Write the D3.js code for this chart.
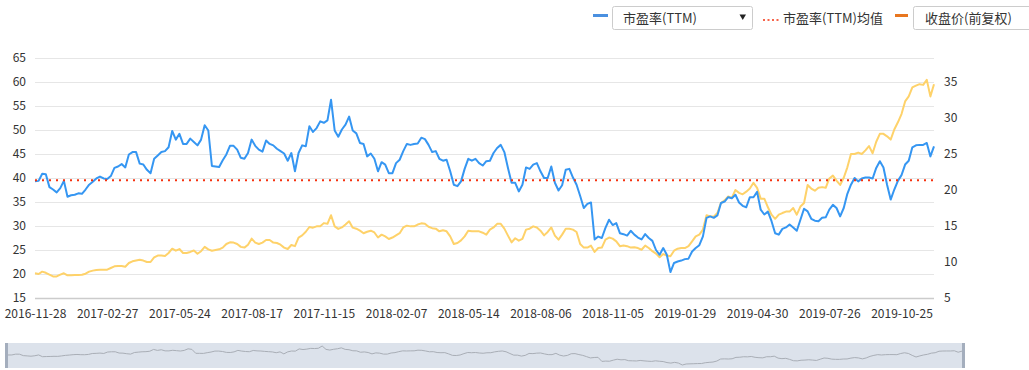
<!DOCTYPE html>
<html><head><meta charset="utf-8">
<script src="https://cdn.jsdelivr.net/npm/d3@7"></script>
<style>
body{margin:0;background:#fff;font-family:"Noto Sans CJK SC","Microsoft YaHei",sans-serif;}
svg text{font-family:"Noto Sans CJK SC","Microsoft YaHei",sans-serif;}
</style></head><body>
<svg id="c" width="1029" height="370"></svg>
<script>
// x-axis tick labels (one every 20 samples)
const tickLabels = ["2016-11-28","2017-02-27","2017-05-24","2017-08-17","2017-11-15","2018-02-07","2018-05-14","2018-08-06","2018-11-05","2019-01-29","2019-04-30","2019-07-26","2019-10-25"];
const samplesPerTick = 20;
const leftTicks = [15,20,25,30,35,40,45,50,55,60,65];
const rightTicks = [5,10,15,20,25,30,35];
const peMean = 39.55;
// 市盈率(TTM)
const pe = [
39.3,39.4,40.9,40.8,38.1,37.6,37.0,37.9,39.4,36.1,
36.4,36.5,36.8,36.7,37.6,38.6,39.2,39.9,40.3,39.9,
39.8,40.4,42.1,42.4,42.9,42.2,44.9,45.4,45.4,43.0,
42.8,41.7,41.0,44.0,44.7,45.4,45.6,46.4,49.8,48.0,
49.2,47.1,47.1,48.2,47.5,46.8,48.0,51.0,49.9,42.5,
42.4,42.3,43.7,44.9,46.7,46.7,45.9,44.2,44.0,45.2,
48.0,46.7,45.9,45.5,47.8,47.1,46.8,46.1,45.6,45.1,
43.6,45.2,41.4,45.2,46.8,46.6,50.8,49.6,50.4,51.8,
51.5,52.0,56.3,49.9,48.6,50.1,51.1,52.8,49.9,49.3,
47.3,47.1,44.5,45.1,44.0,41.4,43.3,42.8,41.0,41.0,
43.1,43.8,45.6,47.1,46.9,47.1,47.2,48.4,48.1,46.9,
45.4,45.6,44.0,43.6,43.8,41.4,38.6,38.3,39.3,41.9,
44.0,43.6,44.0,43.1,42.6,43.5,43.6,45.2,46.25,46.9,
45.4,42.1,39.0,39.0,37.2,38.6,42.2,41.9,42.8,43.1,
41.4,40.0,40.0,42.4,39.0,37.4,38.5,41.7,41.9,40.1,
38.6,36.25,33.75,34.6,34.9,27.2,27.8,27.5,29.6,31.3,
30.2,30.6,28.5,28.3,28.0,29.0,28.2,27.6,27.2,28.3,
27.5,26.9,25.0,24.0,25.4,24.0,20.4,22.3,22.6,22.8,
23.1,23.2,24.7,25.4,26.0,27.85,31.7,32.0,31.7,32.2,
34.8,35.1,36.0,35.8,36.5,34.9,34.2,33.9,36.0,36.0,
37.1,33.4,32.4,33.0,31.0,28.5,28.2,29.4,29.7,30.3,
29.7,29.0,31.3,33.6,33.05,31.5,31.1,31.0,31.7,31.8,
33.4,34.4,33.75,32.0,33.75,36.7,38.6,40.0,39.3,39.9,
40.1,40.1,39.9,42.1,43.5,42.2,38.6,35.5,37.6,39.4,
40.6,42.8,43.6,46.4,46.8,46.9,46.9,47.3,44.5,46.6
];
// 收盘价(前复权)
const price = [
8.43,8.33,8.66,8.5,8.24,8.0,8.0,8.24,8.43,8.15,
8.15,8.2,8.2,8.24,8.38,8.66,8.8,8.9,8.94,8.94,
8.94,9.17,9.4,9.44,9.44,9.35,9.86,10.1,10.2,10.3,
10.2,10.0,10.0,10.65,10.9,10.9,10.83,11.25,11.85,11.57,
11.8,11.25,11.25,11.4,11.6,11.15,11.5,12.1,11.76,11.57,
11.67,11.76,12.0,12.5,12.73,12.7,12.5,12.1,12.0,12.4,
13.24,12.7,12.5,12.7,13.05,13.05,12.7,12.64,12.4,12.0,
11.8,12.36,12.2,13.4,13.7,14.2,14.86,14.77,14.95,14.95,
15.4,15.3,16.5,14.95,14.6,14.8,15.2,15.65,14.77,14.63,
14.35,14.0,14.2,14.35,14.1,13.4,13.8,13.56,13.2,13.4,
13.7,14.0,14.8,15.05,14.95,14.95,15.2,15.37,15.3,14.9,
14.7,14.63,14.26,14.4,14.26,13.56,12.5,12.64,13.0,13.56,
14.35,14.26,14.26,14.26,14.07,13.8,14.5,14.8,15.3,15.3,
14.63,13.66,12.73,13.3,12.96,13.2,14.5,14.63,14.95,14.8,
14.35,13.7,14.17,14.8,13.66,13.1,13.8,14.63,14.63,14.5,
14.17,12.5,12.0,12.0,12.27,11.4,11.94,12.0,13.1,13.4,
13.24,12.87,12.2,12.3,12.2,12.0,12.05,11.94,11.7,12.27,
11.94,11.5,11.16,10.65,11.1,10.9,10.8,11.57,11.85,11.94,
11.94,12.2,12.87,13.56,13.8,14.5,16.5,16.34,16.3,16.8,
18.2,18.56,19.1,18.9,20.0,19.6,19.4,19.77,20.2,21.0,
20.3,18.8,18.8,17.6,16.57,16.0,16.57,16.8,17.0,17.0,
17.5,16.57,17.7,18.2,20.7,20.2,19.9,20.3,20.4,20.3,
21.6,22.0,21.3,20.7,21.7,23.15,25.0,25.0,25.2,25.0,
25.5,26.1,25.1,26.7,27.8,27.8,27.45,27.0,28.4,29.4,
30.55,32.3,33.0,34.26,34.5,34.7,34.6,35.3,33.0,34.7
];

const svg = d3.select("#c");
const L = 35, R = 934, T = 58, B = 298;
const x = d3.scaleLinear().domain([0, pe.length - 1]).range([L, R]);
const yL = d3.scaleLinear().domain([15, 65]).range([B, T]);
const yR = d3.scaleLinear().domain([5, 5 + (B - T) / 7.2]).range([B, T]);

// gridlines
svg.append("g").selectAll("line").data(leftTicks).join("line")
  .attr("x1", L).attr("x2", R)
  .attr("y1", d => Math.round(yL(d)) + 0.5).attr("y2", d => Math.round(yL(d)) + 0.5)
  .attr("stroke", d => d === 15 ? "#cccccc" : "#e6e6e6").attr("stroke-width", d => d === 15 ? 1.5 : 1);

// left axis
const gl = svg.append("g").attr("transform", `translate(${L},0)`)
  .call(d3.axisLeft(yL).tickValues(leftTicks).tickSize(0).tickPadding(9));
gl.select(".domain").remove();
gl.selectAll("text").attr("font-size", 12).attr("fill", "#333");

// right axis
const gr = svg.append("g").attr("transform", `translate(${R},0)`)
  .call(d3.axisRight(yR).tickValues(rightTicks).tickSize(0).tickPadding(10));
gr.select(".domain").remove();
gr.selectAll("text").attr("font-size", 12).attr("fill", "#333");

// bottom axis
const tickIdx = tickLabels.map((d, i) => i * samplesPerTick);
const gb = svg.append("g").attr("transform", `translate(0,${B})`)
  .call(d3.axisBottom(x).tickValues(tickIdx).tickFormat((d, i) => tickLabels[i]).tickSize(0).tickPadding(11));
gb.select(".domain").remove();
gb.selectAll("text").attr("font-size", 12).attr("fill", "#333");

// price line (right axis)
svg.append("path").datum(price)
  .attr("d", d3.line().x((d, i) => x(i)).y(d => yR(d)))
  .attr("fill", "none").attr("stroke", "#fed26a").attr("stroke-width", 2).attr("stroke-linejoin", "round");

// pe line
svg.append("path").datum(pe)
  .attr("d", d3.line().x((d, i) => x(i)).y(d => yL(d)))
  .attr("fill", "none").attr("stroke", "#3596f2").attr("stroke-width", 2).attr("stroke-linejoin", "round");

// mean line
svg.append("line").attr("x1", L).attr("x2", R)
  .attr("y1", yL(peMean)).attr("y2", yL(peMean))
  .attr("stroke", "#f5320f").attr("stroke-width", 2).attr("stroke-dasharray", "2,5");

// legend
const lg = svg.append("g");
lg.append("line").attr("x1", 593).attr("x2", 608).attr("y1", 15.5).attr("y2", 15.5).attr("stroke", "#4a90e0").attr("stroke-width", 3);
lg.append("rect").attr("x", 612.5).attr("y", 6.5).attr("width", 140).attr("height", 23).attr("rx", 2)
  .attr("fill", "#fff").attr("stroke", "#cccccc");
lg.append("text").attr("x", 623).attr("y", 23).attr("font-size", 13).attr("fill", "#333").text("市盈率(TTM)");
lg.append("path").attr("d", "M739.5,14.5 L746,14.5 L742.75,20 Z").attr("fill", "#222");
lg.append("line").attr("x1", 763).attr("x2", 781).attr("y1", 20).attr("y2", 20)
  .attr("stroke", "#f5320f").attr("stroke-width", 1.5).attr("stroke-dasharray", "2,2.5");
lg.append("text").attr("x", 783).attr("y", 23).attr("font-size", 13).attr("fill", "#333").text("市盈率(TTM)均值");
lg.append("line").attr("x1", 895).attr("x2", 908).attr("y1", 15.5).attr("y2", 15.5).attr("stroke", "#e8761f").attr("stroke-width", 3);
lg.append("rect").attr("x", 913.5).attr("y", 6.5).attr("width", 140).attr("height", 23).attr("rx", 2)
  .attr("fill", "#fff").attr("stroke", "#cccccc");
lg.append("text").attr("x", 925).attr("y", 23).attr("font-size", 13).attr("fill", "#333").text("收盘价(前复权)");

// navigator
const NL = 5, NR = 965, NT = 343, NB = 368;
const nav = svg.append("g");
nav.append("rect").attr("x", NL).attr("y", NT).attr("width", NR - NL).attr("height", NB - NT).attr("fill", "#dce2eb");
const nx = d3.scaleLinear().domain([0, pe.length - 1]).range([NL + 3, NR - 3]);
const ny = d3.scaleLinear().domain(d3.extent(pe)).range([NB - 3, NT + 3]);
nav.append("path").datum(pe).attr("d", d3.line().x((d, i) => nx(i)).y(d => ny(d)))
  .attr("fill", "none").attr("stroke", "#a9aeb6").attr("stroke-width", 1);
nav.append("rect").attr("x", NL).attr("y", NT).attr("width", 3).attr("height", NB - NT).attr("fill", "#a4aebd");
nav.append("rect").attr("x", NR - 3).attr("y", NT).attr("width", 3).attr("height", NB - NT).attr("fill", "#a4aebd");
</script>
</body></html>
